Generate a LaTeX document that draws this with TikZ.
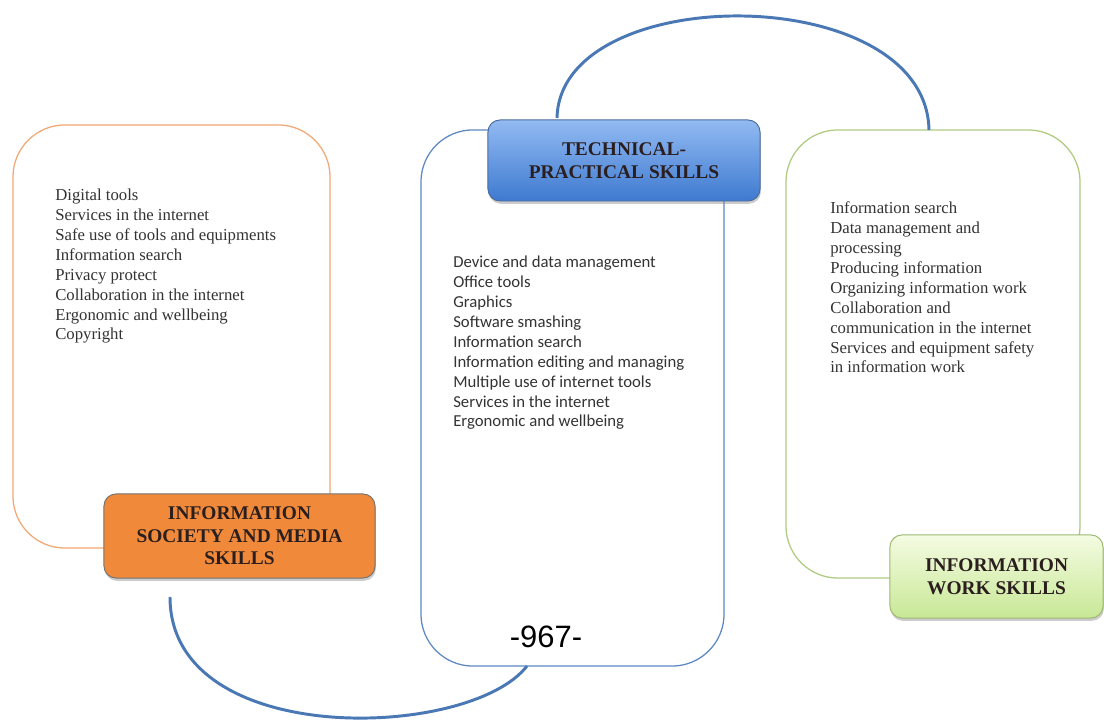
\documentclass[tikz,border=0pt]{standalone}
\usepackage{fontspec}
\setmainfont{Liberation Serif}
\newfontfamily\calibfont{Carlito}
\newfontfamily\arialfont{Liberation Sans}
\usetikzlibrary{shadows}

\definecolor{arcblue}{HTML}{4A78B4}
\definecolor{listgray}{HTML}{333333}
\definecolor{tagtext}{HTML}{2B1E1E}
\definecolor{orangeline}{HTML}{F2A874}
\definecolor{blueline}{HTML}{5E88C2}
\definecolor{greenline}{HTML}{AECB80}

\begin{document}
\begin{tikzpicture}[x=0.025cm,y=-0.025cm,
  bigbox/.style={draw=#1,line width=0.9pt,fill=white,rounded corners=1.3cm,inner sep=0pt},
  tag/.style={draw=#1,line width=0.7pt,rounded corners=0.3cm,align=center,
    font=\bfseries\fontsize{13.8}{16}\selectfont,text=tagtext,
    drop shadow={opacity=0.4,shadow xshift=0.6pt,shadow yshift=-2pt}},
  list/.style={anchor=base west,align=left,inner sep=0pt,text=listgray},
  link/.style={draw=arcblue,line width=2.1pt}]
\useasboundingbox (0,0) rectangle (1104,720);

% the three panels
\node[bigbox=orangeline,minimum width=7.925cm,minimum height=10.575cm] (soc) at (171.5,336.5) {};
\node[bigbox=blueline,minimum width=7.575cm,minimum height=13.4cm] (tec) at (572.5,398) {};
\node[bigbox=greenline,minimum width=7.35cm,minimum height=11.2cm] (wrk) at (933,354) {};

% headings
\node[tag=black!55,fill={rgb,255:red,240;green,138;blue,58},minimum width=6.775cm,minimum height=2.1cm] (socT) at (239.5,536) {INFORMATION\\SOCIETY AND MEDIA\\SKILLS};
\node[tag=blueline!80!black,top color={rgb,255:red,146;green,186;blue,242},bottom color={rgb,255:red,62;green,122;blue,208},minimum width=6.8cm,minimum height=2.025cm] (tecT) at (624,160.5) {TECHNICAL-\\PRACTICAL SKILLS};
\node[tag=greenline!90!black,top color={rgb,255:red,244;green,251;blue,226},bottom color={rgb,255:red,200;green,232;blue,150},minimum width=5.325cm,minimum height=2.075cm] (wrkT) at (996.5,576.5) {INFORMATION\\WORK SKILLS};

% item lists (placed by the baseline of their last line)
\node[list,font=\fontsize{11.9}{14.2}\selectfont] (socL) at (55,340) {Digital tools\\Services in the internet\\Safe use of tools and equipments\\Information search\\Privacy protect\\Collaboration in the internet\\Ergonomic and wellbeing\\Copyright};
\node[list,font=\calibfont\fontsize{11.9}{14.2}\selectfont] (tecL) at (453,427) {Device and data management\\Office tools\\Graphics\\Software smashing\\Information search\\Information editing and managing\\Multiple use of internet tools\\Services in the internet\\Ergonomic and wellbeing};
\node[list,font=\fontsize{11.9}{14.2}\selectfont] (wrkL) at (830,373) {Information search\\Data management and\\processing\\Producing information\\Organizing information work\\Collaboration and\\communication in the internet\\Services and equipment safety\\in information work};

\node[font=\arialfont\fontsize{22}{24}\selectfont,inner sep=0pt] (pg) at (546,637) {-967-};

% arcs between panels
\coordinate (tecTop) at (557,118);
\coordinate (wrkTop) at (929,130);
\coordinate (socBot) at (170,597);
\coordinate (tecBot) at (527,666);
\draw[link] (tecTop) .. controls (560,-20) and (926,-20) .. (wrkTop);
\draw[link] (socBot) .. controls (170,750) and (470,740) .. (tecBot);
\end{tikzpicture}
\end{document}
